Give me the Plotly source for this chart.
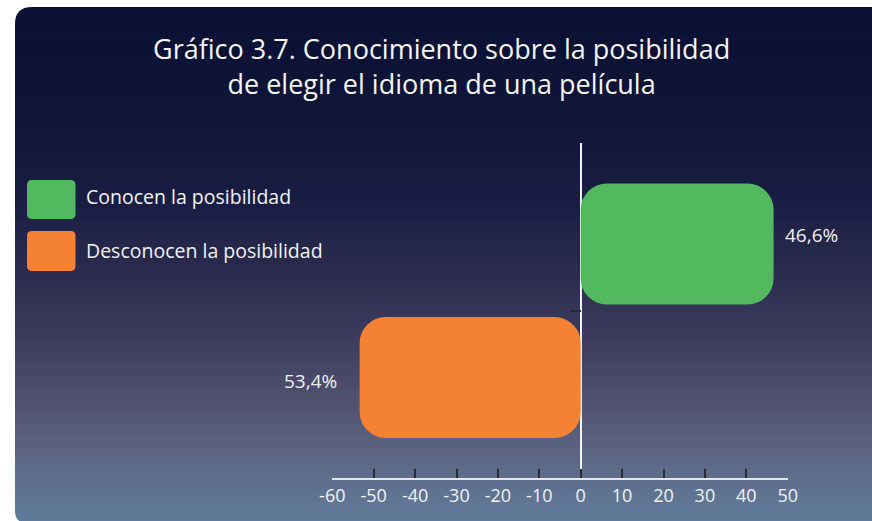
import plotly.graph_objects as go

# ---- data ----
categories = ["Desconocen la posibilidad", "Conocen la posibilidad"]
values = [-53.4, 46.6]
bar_colors = ["#f48134", "#52b95f"]
tick_values = [-60, -50, -40, -30, -20, -10, 0, 10, 20, 30, 40, 50]
title_lines = ["Gráfico 3.7. Conocimiento sobre la posibilidad",
               "de elegir el idioma de una película"]

W, H = 872, 521
FONT = "Open Sans"


def px(x):
    return x / W


def py(y):
    return 1 - y / H


def hex_rgb(h):
    h = h.lstrip("#")
    return tuple(int(h[i:i + 2], 16) for i in (0, 2, 4))


# vertical gradient of the panel (pixel y, colour)
grad_stops = [(7, "#0a1034"), (120, "#0f1638"), (200, "#1a1d43"), (280, "#2c2d50"),
              (350, "#403f60"), (410, "#535573"), (460, "#5e6886"), (521, "#5f7b9b")]


def grad_color(y):
    for (y0, c0), (y1, c1) in zip(grad_stops[:-1], grad_stops[1:]):
        if y0 <= y <= y1:
            t = (y - y0) / (y1 - y0)
            a, b = hex_rgb(c0), hex_rgb(c1)
            return "rgb(%d,%d,%d)" % tuple(round(a[i] + (b[i] - a[i]) * t) for i in range(3))
    return grad_stops[-1][1]


shapes = []
panel_left, panel_top = 15, 7
step = 3
y = panel_top
while y < H:
    y2 = min(y + step, H)
    shapes.append(dict(type="rect", xref="paper", yref="paper", layer="below",
                       x0=px(panel_left), x1=1.0, y0=py(y2 + 0.5), y1=py(y),
                       fillcolor=grad_color(y + step / 2), line_width=0))
    y = y2

# rounded panel corners (white masks)
r_top = 17
shapes.append(dict(type="path", xref="paper", yref="paper", layer="below",
                   path=f"M {px(panel_left - 1)},{py(panel_top - 1)} L {px(panel_left + r_top)},{py(panel_top - 1)} "
                        f"L {px(panel_left + r_top)},{py(panel_top)} "
                        f"Q {px(panel_left)},{py(panel_top)} {px(panel_left)},{py(panel_top + r_top)} "
                        f"L {px(panel_left - 1)},{py(panel_top + r_top)} Z",
                   fillcolor="white", line_width=0))
r_bot = 12
bot = H + 2
shapes.append(dict(type="path", xref="paper", yref="paper", layer="below",
                   path=f"M {px(panel_left - 1)},{py(bot - r_bot)} L {px(panel_left)},{py(bot - r_bot)} "
                        f"Q {px(panel_left)},{py(bot)} {px(panel_left + r_bot)},{py(bot)} "
                        f"L {px(panel_left - 1)},{py(bot)} Z",
                   fillcolor="white", line_width=0))

# legend swatches
legend_rows = [(1, 180, 219, 196), (0, 231, 271, 250)]
annotations = []
for idx, ytop, ybot, ytext in legend_rows:
    x0, x1, r = 27, 75.5, 5
    path = (f"M {px(x0 + r)},{py(ytop)} L {px(x1 - r)},{py(ytop)} Q {px(x1)},{py(ytop)} {px(x1)},{py(ytop + r)} "
            f"L {px(x1)},{py(ybot - r)} Q {px(x1)},{py(ybot)} {px(x1 - r)},{py(ybot)} "
            f"L {px(x0 + r)},{py(ybot)} Q {px(x0)},{py(ybot)} {px(x0)},{py(ybot - r)} "
            f"L {px(x0)},{py(ytop + r)} Q {px(x0)},{py(ytop)} {px(x0 + r)},{py(ytop)} Z")
    shapes.append(dict(type="path", xref="paper", yref="paper", path=path,
                       fillcolor=bar_colors[idx], line_width=0))
    annotations.append(dict(xref="paper", yref="paper", x=px(84), y=py(ytext),
                            xanchor="left", yanchor="middle", showarrow=False,
                            text=categories[idx], font=dict(family=FONT, size=19.5, color="#f2f2f2")))

# title
annotations.append(dict(xref="paper", yref="paper", x=px(441), y=py(66),
                        xanchor="center", yanchor="middle", showarrow=False,
                        text="<br>".join(title_lines),
                        font=dict(family=FONT, size=27, color="#f5f5f5")))

# value labels
def fmt(v):
    return f"{abs(v):.1f}".replace(".", ",") + "%"


for i, v in enumerate(values):
    annotations.append(dict(xref="x", yref="y", x=v, y=i,
                            xanchor="left" if v > 0 else "right", yanchor="middle",
                            xshift=9 if v > 0 else -21, yshift=9 if v > 0 else -3,
                            showarrow=False, text=fmt(v),
                            font=dict(family=FONT, size=19, color="#f2f2f2")))

fig = go.Figure()
# bars spanning from an explicit base of zero, rounded at both ends
for i, (cat, v, col) in enumerate(zip(categories, values, bar_colors)):
    fig.add_trace(go.Bar(y=[i], x=[v], base=[0], orientation="h",
                         marker=dict(color=col, line_width=0, cornerradius=26),
                         width=0.906, name=cat, showlegend=False,
                         hovertemplate=f"{cat}: {fmt(v)}<extra></extra>"))

x_dom = [px(332.3), px(787.7)]
x_rng = [tick_values[0], tick_values[-1]]
zero_pos = x_dom[0] + (0 - x_rng[0]) / (x_rng[1] - x_rng[0]) * (x_dom[1] - x_dom[0])

fig.update_layout(
    width=W, height=H,
    margin=dict(l=0, r=0, t=0, b=0, autoexpand=False),
    paper_bgcolor="white", plot_bgcolor="rgba(0,0,0,0)",
    barmode="overlay",
    shapes=shapes, annotations=annotations,
    showlegend=False,
    xaxis=dict(domain=x_dom, range=x_rng, tickvals=tick_values,
               ticktext=[str(t) for t in tick_values], automargin=False,
               showgrid=False, showline=True, linecolor="#e6e6e6", linewidth=2,
               ticks="inside", ticklen=9, tickwidth=2, tickcolor="#2b2b33",
               zeroline=True, zerolinecolor="#f2f2f2", zerolinewidth=2,
               tickfont=dict(family=FONT, size=18, color="#f2f2f2"),
               fixedrange=True),
    yaxis=dict(domain=[py(478), py(143)], range=[-0.753, 1.757],
               anchor="free", position=zero_pos, automargin=False,
               tickvals=[0.5], ticktext=[""], ticks="outside", ticklen=11,
               tickwidth=2, tickcolor="#2b2b33",
               showgrid=False, showline=False, zeroline=False, fixedrange=True),
)

fig.write_html("out.html")
